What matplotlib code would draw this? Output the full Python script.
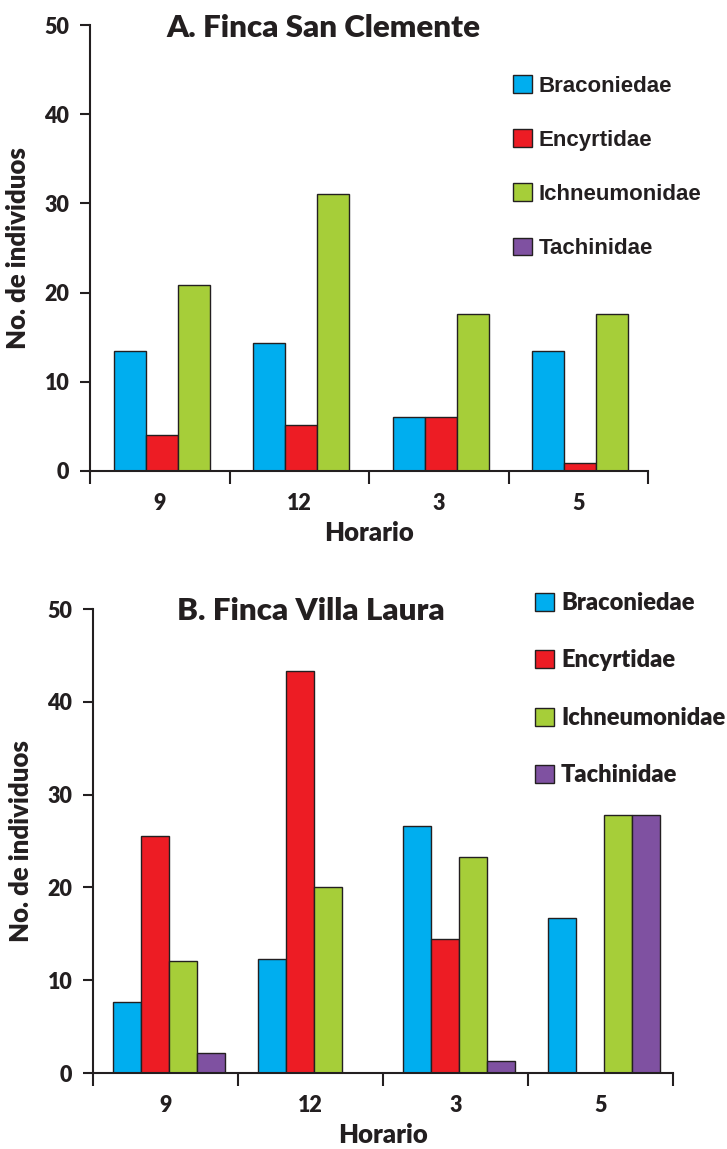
import numpy as np
import matplotlib.pyplot as plt
from matplotlib.patches import Patch

# data
horario = ['9', '12', '3', '5']
familias = ['Braconiedae', 'Encyrtidae', 'Ichneumonidae', 'Tachinidae']
colores = ['#00AEEF', '#ED1C24', '#A6CE39', '#7F51A1']

# A. Finca San Clemente
brac_a = [13.4, 14.4, 6.1, 13.4]
ency_a = [4.0, 5.2, 6.1, 0.9]
ichn_a = [20.8, 31.1, 17.6, 17.6]
tach_a = [0, 0, 0, 0]

# B. Finca Villa Laura
brac_b = [7.7, 12.3, 26.6, 16.7]
ency_b = [25.5, 43.3, 14.4, 0]
ichn_b = [12.1, 20.0, 23.3, 27.8]
tach_b = [2.2, 0, 1.3, 27.8]

txt = '#231F20'
W, H = 727, 1149
fuente = 'Lato'
peso = 'heavy'

fig = plt.figure(figsize=(W / 100, H / 100), dpi=100)
axA = fig.add_axes([90 / W, 1 - 471 / H, (648 - 90) / W, (471 - 25) / H])
axB = fig.add_axes([93 / W, 1 - 1073 / H, (673 - 93) / W, (1073 - 609) / H])


def draw(ax, series, width, shift):
    x = np.arange(len(horario))
    n = len(series)
    for i, (vals, col) in enumerate(series):
        off = (i - (n - 1) / 2) * width + shift
        ax.bar(x + off, vals, width, color=col, edgecolor=txt, linewidth=1, zorder=2)
    ax.set_xlim(-0.5, 3.5)
    ax.set_ylim(0, 50)
    ax.set_yticks([0, 10, 20, 30, 40, 50])
    for s in ['top', 'right']:
        ax.spines[s].set_visible(False)
    for s in ['left', 'bottom']:
        ax.spines[s].set_linewidth(1.5)
        ax.spines[s].set_color(txt)
    ax.set_xticks(x)
    ax.set_xticklabels(horario, family=fuente, fontweight=peso, fontsize=15.5, color=txt)
    ax.set_xticks(np.arange(-0.5, 4, 1), minor=True)
    ax.tick_params(axis='x', which='major', length=0, pad=16)
    ax.tick_params(axis='x', which='minor', length=9, width=1.5, color=txt, direction='out')
    ax.tick_params(axis='y', length=7, width=1.5, color=txt, pad=8)
    for lab in ax.get_yticklabels():
        lab.set_family(fuente)
        lab.set_fontweight(peso)
        lab.set_fontsize(15.5)
        lab.set_color(txt)
    ax.set_xlabel('Horario', family=fuente, fontweight=peso, fontsize=18.5, color=txt, labelpad=5)
    ax.set_ylabel('No. de individuos', family=fuente, fontweight=peso, fontsize=18.5, color=txt, labelpad=10)


# panel A: only three series have bars
draw(axA, [(brac_a, colores[0]), (ency_a, colores[1]), (ichn_a, colores[2])], 0.23, 0.015)
draw(axB, [(brac_b, colores[0]), (ency_b, colores[1]), (ichn_b, colores[2]), (tach_b, colores[3])], 0.193, 0.025)

fig.text(323 / W, 1 - 28 / H, 'A. Finca San Clemente', family=fuente, fontweight=peso,
         fontsize=22.5, color=txt, ha='center', va='center')
fig.text(311 / W, 1 - 611 / H, 'B. Finca Villa Laura', family=fuente, fontweight=peso,
         fontsize=22.5, color=txt, ha='center', va='center')

handles = [Patch(facecolor=c, edgecolor=txt, linewidth=1) for c in colores]
legA = axA.legend(handles, familias, loc='upper left', bbox_to_anchor=(513 / W, 1 - 75 / H),
                  bbox_transform=fig.transFigure, frameon=False, borderpad=0, borderaxespad=0,
                  handlelength=0.85, handleheight=0.85, handletextpad=0.3, labelspacing=1.47,
                  prop={'family': 'Liberation Sans', 'weight': 'bold', 'size': 16})
for t in legA.get_texts():
    t.set_color(txt)
legB = axB.legend(handles, familias, loc='upper left', bbox_to_anchor=(535 / W, 1 - 592 / H),
                  bbox_transform=fig.transFigure, frameon=False, borderpad=0, borderaxespad=0,
                  handlelength=0.8, handleheight=0.8, handletextpad=0.3, labelspacing=1.5,
                  prop={'family': fuente, 'weight': peso, 'size': 17})
for t in legB.get_texts():
    t.set_color(txt)

fig.savefig('out.png', dpi=100)
